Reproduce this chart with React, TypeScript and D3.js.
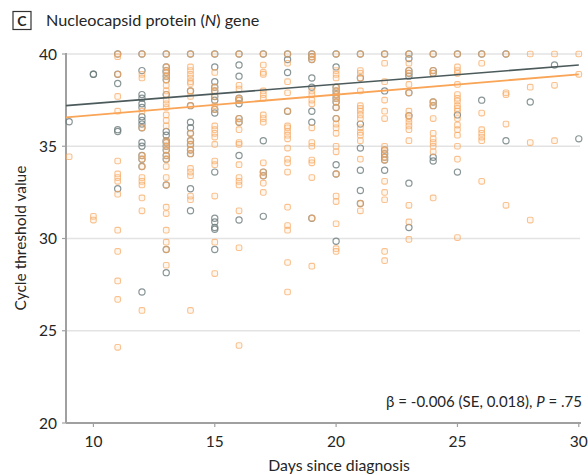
import React from "react";
import * as d3 from "d3";

const days = [9, 10, 11, 12, 13, 14, 15, 16, 17, 18, 19, 20, 21, 22, 23, 24, 25, 26, 27, 28, 29, 30];

// Gray circles (one group), per day
const grayCt: number[][] = [
  [36.33],
  [38.9, 38.9],
  [40, 38.9, 38.4, 35.9, 35.8, 32.7],
  [40, 39.1, 37.8, 37.6, 37.3, 37.1, 36.6, 36.4, 36.2, 36.0, 35.2, 35.0, 34.5, 34.3, 33.9, 27.1],
  [40, 39.3, 39.1, 39.0, 38.8, 38.6, 37.8, 35.8, 35.6, 35.3, 35.2, 35.0, 34.8, 34.5, 34.3, 32.9, 29.4, 28.15],
  [40, 38.0, 37.2, 36.3, 36.0, 35.7, 35.3, 35.1, 34.8, 34.6, 32.7, 31.5],
  [40, 39.3, 38.5, 38.2, 38.0, 37.7, 37.5, 37.0, 36.8, 33.6, 31.1, 30.9, 30.6, 30.5, 29.4],
  [40, 39.4, 38.8, 37.6, 37.5, 37.3, 36.5, 36.3, 34.5, 31.0],
  [40, 35.3, 33.6, 33.4, 31.2],
  [40, 39.7, 39.0, 36.9],
  [40, 39.85, 39.7, 38.7, 38.2, 36.9, 36.3, 31.1],
  [40, 39.3, 38.2, 38.0, 37.8, 37.6, 37.4, 37.1, 36.5, 34.0, 33.5, 29.85],
  [40, 38.7, 36.2, 34.9, 33.7, 32.6, 31.9],
  [40, 38.0, 34.8, 34.6, 34.4, 34.25, 33.7],
  [40, 39.75, 39.1, 38.95, 38.8, 37.9, 36.65, 33.0, 30.6],
  [40, 39.1, 38.95, 37.4, 37.2, 34.4, 34.2],
  [40, 36.7, 33.6],
  [40, 37.5],
  [40, 35.3],
  [37.4],
  [39.4],
  [35.4],
];

// Orange squares (other group), per day
const orangeCt: number[][] = [
  [34.43],
  [31.2, 31.0],
  [40, 39.85, 38.9, 37.7, 36.9, 34.2, 33.5, 33.3, 33.1, 32.4, 30.45, 29.3, 27.7, 26.7, 24.1],
  [40, 38.9, 38.7, 36.9, 36.0, 34.5, 34.3, 33.9, 33.3, 33.1, 32.9, 32.2, 31.5, 26.1],
  [40, 39.3, 39.1, 39.0, 38.8, 38.6, 38.3, 38.0, 37.8, 37.5, 37.3, 37.1, 36.7, 36.4, 36.1, 35.3, 35.2, 35.0, 34.8, 34.5, 34.3, 33.9, 33.3, 32.9, 31.7, 31.35, 30.45, 29.8, 29.4, 28.55],
  [40, 39.3, 39.1, 38.9, 38.7, 38.5, 38.4, 38.0, 37.7, 37.2, 35.7, 35.3, 35.1, 34.8, 34.6, 33.8, 33.6, 33.4, 32.3, 32.1, 26.1],
  [40, 39.0, 38.2, 38.0, 37.7, 37.2, 37.0, 36.1, 35.9, 35.7, 35.5, 35.1, 34.2, 34.0, 32.3, 29.8, 28.1],
  [40, 38.3, 38.1, 37.6, 37.5, 36.5, 36.3, 35.9, 35.2, 35.1, 34.0, 33.3, 33.1, 32.9, 31.5, 29.5, 24.2],
  [40, 39.4, 39.0, 38.9, 38.0, 37.8, 37.6, 36.7, 36.5, 36.3, 34.1, 33.6, 33.4, 33.0, 32.5],
  [40, 39.5, 38.5, 37.9, 36.9, 36.1, 36.0, 35.8, 35.6, 35.4, 34.9, 34.3, 34.1, 33.6, 31.7, 30.7, 30.45, 28.7, 27.1],
  [40, 39.85, 39.7, 38.0, 37.8, 37.5, 37.3, 36.0, 35.2, 35.0, 34.25, 34.1, 33.3, 31.1, 28.5],
  [40, 39.1, 38.9, 38.7, 38.2, 38.0, 37.8, 37.6, 37.4, 37.1, 36.5, 36.2, 36.0, 35.7, 35.0, 34.7, 33.5, 32.3, 32.0, 30.8, 29.45, 29.3],
  [40, 39.1, 38.95, 38.7, 38.0, 37.2, 37.05, 36.9, 36.7, 36.5, 36.0, 35.75, 35.6, 35.3, 34.3, 31.9, 31.5],
  [40, 39.5, 38.5, 37.5, 36.9, 36.5, 35.0, 34.8, 34.6, 34.4, 34.25, 33.1, 32.5, 32.1, 29.3, 28.8],
  [40, 39.5, 39.1, 38.95, 38.35, 37.9, 36.9, 36.65, 36.5, 36.3, 36.1, 35.9, 35.3, 31.8, 30.9, 29.95],
  [40, 39.1, 38.95, 37.4, 37.2, 36.5, 35.7, 35.4, 35.2, 35.0, 34.7, 32.2],
  [40, 39.3, 39.1, 38.95, 38.35, 37.8, 37.6, 37.45, 37.2, 37.05, 36.9, 36.5, 36.15, 35.9, 35.6, 35.0, 34.3, 30.05],
  [40, 39.5, 36.8, 35.9, 35.7, 35.5, 35.3, 33.1],
  [40, 37.9, 37.8, 36.2, 31.8],
  [40, 38.2, 35.2, 31.0],
  [40, 38.3, 35.3],
  [40, 38.9],
];

// Fitted lines: [day, Ct] endpoints
const grayFit: [number, number][] = [[8.87, 37.2], [30, 39.4]];
const orangeFit: [number, number][] = [[8.87, 36.57], [30, 38.9]];

const xTicks = [10, 15, 20, 25, 30];
const yTicks = [20, 25, 30, 35, 40];
const gridTicks = [25, 30, 35, 40];

const FONT = "Lato, 'Open Sans', sans-serif";

export default function App() {
  const W = 588, H = 475;
  const x = d3.scaleLinear().domain([8.87, 30.05]).range([66, 580]);
  const y = d3.scaleLinear().domain([20, 40]).range([423, 54]);
  const line = d3.line<[number, number]>().x(d => x(d[0])).y(d => y(d[1]));

  const grayPts = days.flatMap((d, i) => grayCt[i].map(v => [d, v] as [number, number]));
  const orangePts = days.flatMap((d, i) => orangeCt[i].map(v => [d, v] as [number, number]));

  const s = 5.6;
  const txt = "#262626";
  return (
    <svg width={W} height={H} style={{ position: "absolute", left: 0, top: 0, background: "#fff" }}>
      <rect width={W} height={H} fill="#fff" />
      {/* Title */}
      <rect x={13} y={11.5} width={18} height={18} fill="none" stroke="#333" strokeWidth={1.2} />
      <text x={22} y={25.5} textAnchor="middle" fontFamily={FONT} fontSize={14} fontWeight="bold" fill={txt}>C</text>
      <text x={46} y={25.5} fontFamily={FONT} fontSize={16.2} fill={txt}>
        Nucleocapsid protein (<tspan fontStyle="italic">N</tspan>) gene
      </text>

      {/* Gridlines */}
      {gridTicks.map(t => (
        <line key={"g" + t} x1={66} x2={580} y1={y(t)} y2={y(t)} stroke="#e3e3e3" strokeWidth={1.5} />
      ))}

      {/* Axes */}
      <line x1={66} x2={66} y1={y(40) - 1} y2={y(20)} stroke="#a0a0a0" strokeWidth={2} />
      <line x1={66} x2={581} y1={y(20)} y2={y(20)} stroke="#a0a0a0" strokeWidth={2} />
      {yTicks.map(t => (
        <g key={"yt" + t}>
          <line x1={62} x2={66} y1={y(t)} y2={y(t)} stroke="#a0a0a0" strokeWidth={1.2} />
          <text x={57} y={y(t) + 5.5} textAnchor="end" fontFamily={FONT} fontSize={15.5} fill={txt}>{t}</text>
        </g>
      ))}
      {xTicks.map(t => (
        <g key={"xt" + t}>
          <line x1={x(t)} x2={x(t)} y1={y(20)} y2={y(20) + 4} stroke="#a0a0a0" strokeWidth={1.2} />
          <text x={x(t)} y={447} textAnchor="middle" fontFamily={FONT} fontSize={15.5} fill={txt}>{t}</text>
        </g>
      ))}
      <text x={339} y={471} textAnchor="middle" fontFamily={FONT} fontSize={15.8} fill={txt}>Days since diagnosis</text>
      <text transform={`translate(26,${238}) rotate(-90)`} textAnchor="middle" fontFamily={FONT} fontSize={15.5} fill={txt}>
        Cycle threshold value
      </text>

      {/* Points */}
      {grayPts.map((p, i) => (
        <circle key={"gp" + i} cx={x(p[0])} cy={y(p[1])} r={3.1} fill="none" stroke="#6b7b7c" strokeWidth={1.2} opacity={0.8} />
      ))}
      {orangePts.map((p, i) => (
        <rect key={"op" + i} x={x(p[0]) - s / 2} y={y(p[1]) - s / 2} width={s} height={s} rx={1.6}
          fill="#fbd2a9" fillOpacity={0.25} stroke="#f8a85f" strokeWidth={1.1} opacity={0.7} />
      ))}

      {/* Fit lines */}
      <path d={line(grayFit) || ""} fill="none" stroke="#4c5a5b" strokeWidth={1.6} />
      <path d={line(orangeFit) || ""} fill="none" stroke="#f9a456" strokeWidth={1.8} />

      {/* Annotation */}
      <text x={582} y={407} textAnchor="end" fontFamily={FONT} fontSize={15} fill={txt}>
        β = -0.006 (SE, 0.018), <tspan fontStyle="italic">P</tspan> = .75
      </text>
    </svg>
  );
}
